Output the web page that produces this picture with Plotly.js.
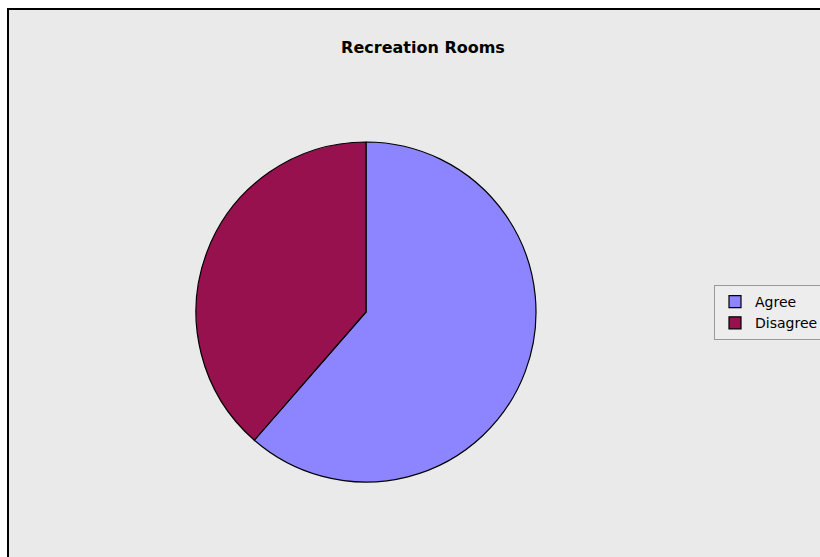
<!DOCTYPE html>
<html>
<head>
<meta charset="utf-8">
<script src="https://cdn.plot.ly/plotly-3.0.1.min.js"></script>
<style>
html,body{margin:0;padding:0;background:#fff;overflow:hidden;width:820px;height:557px;}
#chart{position:absolute;left:7px;top:8px;width:830px;height:560px;border-left:2px solid #000;border-top:2px solid #000;}
</style>
</head>
<body>
<div id="chart"></div>
<script>
const categories = ["Agree", "Disagree"];
const values = [35, 22];
const colors = ["#8C85FF", "#97114E"];
const chartTitle = "Recreation Rooms";

const W = 830, H = 560;
Plotly.newPlot("chart", [{
  type: "pie",
  labels: categories,
  values: values,
  sort: false,
  direction: "clockwise",
  rotation: 0,
  textinfo: "none",
  hoverinfo: "label+value",
  marker: {colors: colors, line: {color: "#000", width: 1.2}},
  domain: {x: [187/W, 527/W], y: [1-472/H, 1-132/H]}
}], {
  width: W, height: H,
  margin: {l: 0, r: 0, t: 0, b: 0},
  paper_bgcolor: "#EAEAEA",
  font: {family: "DejaVu Sans, Verdana, sans-serif", color: "#000"},
  title: {text: "<b>" + chartTitle + "</b>", x: 414/W, xanchor: "center", y: 1-37/H, yanchor: "middle", font: {size: 16, color: "#000"}},
  showlegend: true,
  legend: {x: 705/W, xanchor: "left", y: 1-275/H, yanchor: "top", bgcolor: "#EDEDED", bordercolor: "#999", borderwidth: 1, font: {size: 14}, itemwidth: 30, tracegroupgap: 0}
}, {displayModeBar: false, staticPlot: true});
</script>
</body>
</html>
